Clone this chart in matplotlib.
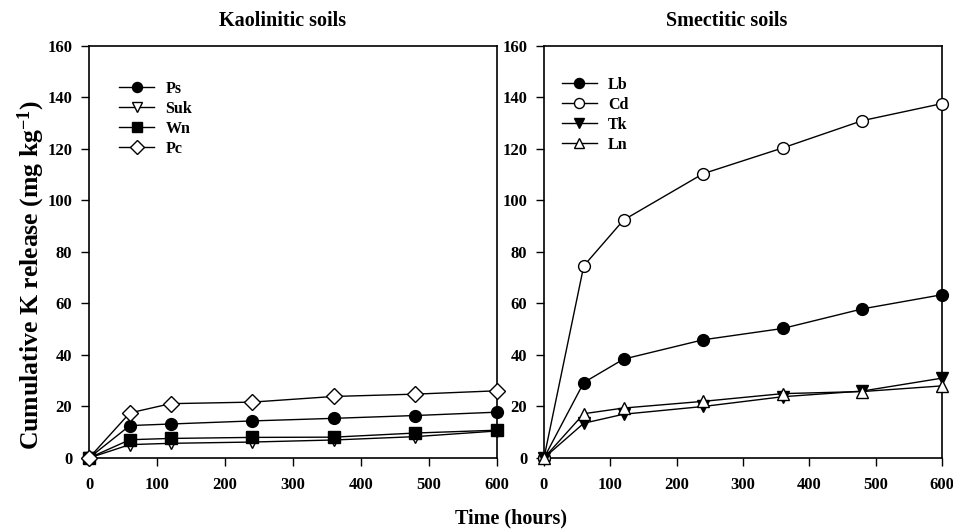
import matplotlib
matplotlib.use("Agg")
import matplotlib.pyplot as plt

# temps d'incubation (heures)
hours = [0, 60, 120, 240, 360, 480, 600]

# sols kaolinitiques
ps = [0, 12.6, 13.2, 14.4, 15.4, 16.5, 17.8]
suk = [0, 5.2, 5.7, 6.2, 7.0, 8.3, 10.5]
wn = [0, 7.1, 7.6, 8.0, 8.1, 9.7, 10.8]
pc = [0, 17.5, 21.1, 21.7, 23.9, 24.8, 26.1]

# sols smectitiques
lb = [0, 29.3, 38.4, 45.9, 50.3, 57.9, 63.4]
cd = [0, 74.6, 92.4, 110.4, 120.4, 131.0, 137.6]
tk = [0, 13.5, 17.0, 20.0, 23.8, 26.0, 31.0]
ln = [0, 17.2, 19.4, 22.0, 25.0, 25.8, 28.0]

yticks = [0, 20, 40, 60, 80, 100, 120, 140, 160]
xticks = [0, 100, 200, 300, 400, 500, 600]

plt.rcParams['font.family'] = ['Liberation Serif', 'DejaVu Serif']
plt.rcParams['font.weight'] = 'bold'
plt.rcParams['mathtext.fontset'] = 'custom'
plt.rcParams['mathtext.rm'] = 'Liberation Serif:bold'
plt.rcParams['mathtext.bf'] = 'Liberation Serif:bold'
plt.rcParams['mathtext.it'] = 'Liberation Serif:bold'

fig = plt.figure(figsize=(9.54, 5.29), dpi=100)
ax1 = fig.add_axes([0.0933, 0.1342, 0.4277, 0.779])
ax2 = fig.add_axes([0.5702, 0.1342, 0.4172, 0.779])

kao = [("Ps", ps, "o", "black"), ("Suk", suk, "v", "white"),
       ("Wn", wn, "s", "black"), ("Pc", pc, "D", "white")]
sme = [("Lb", lb, "o", "black"), ("Cd", cd, "o", "white"),
       ("Tk", tk, "v", "black"), ("Ln", ln, "^", "white")]

# position du titre et de la légende propre à chaque panneau
panels = [(ax1, kao, "Kaolinitic soils", 0.474, (0.0735, 0.915)),
          (ax2, sme, "Smectitic soils", 0.46, (0.045, 0.925))]

for ax, series, title, tx, anchor in panels:
    for name, vals, m, fc in series:
        ms = 8 if m == "D" else 8.5
        ax.plot(hours, vals, marker=m, color="black", mfc=fc, mec="black",
                ms=ms, lw=1.0, label=name, clip_on=False, zorder=3)
    ax.set_xlim(0, 600)
    ax.set_ylim(0, 160)
    ax.set_xticks(xticks)
    ax.set_yticks(yticks)
    ax.tick_params(axis="x", direction="out", length=6, width=1, labelsize=12, pad=8)
    ax.tick_params(axis="y", direction="out", length=6, width=1, labelsize=12, pad=6)
    for sp in ax.spines.values():
        sp.set_linewidth(1.2)
    ax.text(tx, 1.06, title, transform=ax.transAxes, ha="center", va="center",
            fontsize=14.5, fontweight="bold")
    leg = ax.legend(loc="upper left", bbox_to_anchor=anchor, frameon=False,
                    fontsize=11.5, handlelength=2.2, labelspacing=0.25,
                    handletextpad=0.7, markerscale=0.85,
                    borderpad=0, borderaxespad=0)
    for t in leg.get_texts():
        t.set_fontweight("bold")

fig.text(0.033, 0.48, "Cumulative K release (mg kg$^{-1}$)", rotation=90,
         ha="center", va="center", fontsize=18.5, fontweight="bold")
fig.text(0.536, 0.02, "Time (hours)", ha="center", va="center",
         fontsize=14.5, fontweight="bold")

fig.savefig("out.png", dpi=100)
